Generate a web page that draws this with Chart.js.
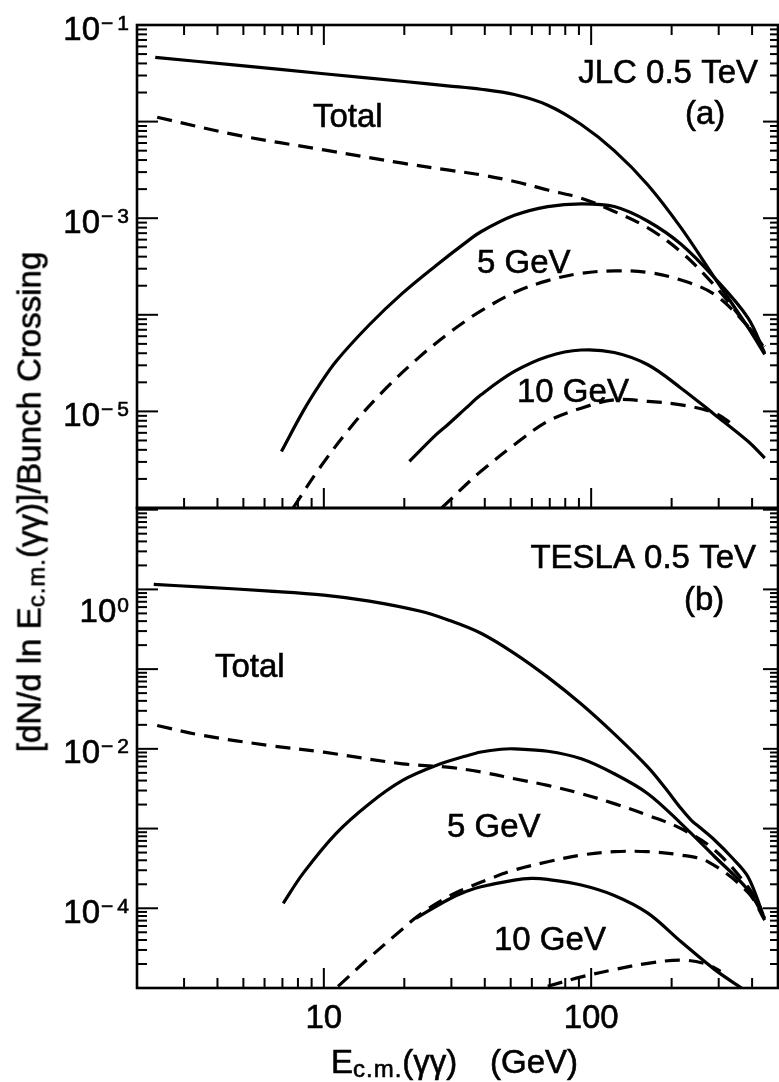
<!DOCTYPE html>
<html><head><meta charset="utf-8">
<script src="https://cdn.jsdelivr.net/npm/chart.js@4.4.1/dist/chart.umd.min.js"></script>
<style>
html,body{margin:0;padding:0;background:#fff;}
#wrap{position:relative;width:779px;height:1082px;overflow:hidden;background:#fff;font-family:'Liberation Sans',Arial,Helvetica,sans-serif;color:#000;}
canvas{position:absolute;left:0;top:0;}
.t{position:absolute;white-space:nowrap;font-size:33px;line-height:1;-webkit-text-stroke:0.6px #000;}
.sub{font-size:24px;position:relative;top:4px;letter-spacing:1px;}
#ytitle{left:29px;top:502px;transform:translate(-50%,-50%) rotate(-90deg);}
</style></head><body>
<div id="wrap">
<canvas id="c1" width="779" height="1082"></canvas>
<canvas id="c2" width="779" height="1082"></canvas>
<div class="t" id="ytitle">[dN/d ln E<span class="sub">c.m.</span>(&gamma;&gamma;)]/Bunch Crossing</div>
<div class="t" style="left:331px;top:1045px">E<span class="sub">c.m.</span>(&gamma;&gamma;)</div>
<div class="t" style="left:490px;top:1045px">(GeV)</div>
</div>
<script>
// ---------- axes ----------
const xRange = [2, 500];            // E_c.m.(gamma gamma), GeV
const jlcRange = [1e-6, 0.1];
const teslaRange = [1e-5, 10.5];
const xTickLabels = [10, 100];
const jlcTickLabels = [1e-1, 1e-3, 1e-5];
const teslaTickLabels = [1, 1e-2, 1e-4];

// ---------- (a) JLC 0.5 TeV ----------
const jlcTotalE = [2.34, 4.7, 10, 20, 29, 38.7, 51.6, 68.8, 91.8, 122, 163, 217, 290, 386, 446];
const jlcTotal  = [0.0463, 0.0384, 0.0313, 0.026, 0.02344, 0.02163, 0.01905, 0.01479, 0.00933, 0.00501, 0.00221, 0.000794, 0.00024, 7.41e-5, 3.9e-5];
const jlcTotalDashE = [2.38, 4.7, 10, 19.7, 29, 38.7, 51.6, 68.8, 91.8, 122, 163, 217, 290, 386, 446];
const jlcTotalDash  = [0.0111, 0.00728, 0.00509, 0.00371, 0.00316, 0.00281, 0.0024, 0.00196, 0.00161, 0.001175, 0.000794, 0.000447, 0.0002, 7.6e-5, 4.7e-5];
const jlc5E = [6.94, 8.36, 9.64, 11.1, 14.8, 19.7, 26.3, 34, 38.7, 51.6, 68.8, 91.8, 122, 163, 217, 290, 386, 446];
const jlc5  = [3.85e-6, 1e-5, 1.89e-5, 3.29e-5, 7.89e-5, 1.675e-4, 3.24e-4, 5.62e-4, 7.24e-4, 1.07e-3, 1.32e-3, 1.41e-3, 1.32e-3, 9.3e-4, 5.37e-4, 2.4e-4, 9.3e-5, 4.0e-5];
const jlc5DashE = [7.67, 9.64, 12.8, 17.1, 22.8, 29, 34, 38.7, 51.6, 68.8, 91.8, 122, 163, 217, 290, 386, 446];
const jlc5Dash  = [1e-6, 2.59e-6, 7.24e-6, 1.74e-5, 3.67e-5, 6.31e-5, 8.67e-5, 1.1e-4, 1.7e-4, 2.26e-4, 2.69e-4, 2.85e-4, 2.75e-4, 2.29e-4, 1.62e-4, 7.6e-5, 4.5e-5];
const jlc10E = [20.9, 26.3, 29, 34, 38.7, 51.6, 68.8, 91.8, 122, 163, 217, 290, 386, 446];
const jlc10  = [3.04e-6, 5.74e-6, 7.24e-6, 1.08e-5, 1.486e-5, 2.59e-5, 3.71e-5, 4.32e-5, 4.07e-5, 3.04e-5, 1.74e-5, 9.25e-6, 4.9e-6, 3.29e-6];
const jlc10DashE = [27.6, 34, 38.7, 51.6, 68.8, 91.8, 122, 163, 217, 290, 344];
const jlc10Dash  = [1e-6, 1.74e-6, 2.4e-6, 4.52e-6, 7.89e-6, 1.08e-5, 1.32e-5, 1.27e-5, 1.17e-5, 9.6e-6, 7.1e-6];

// ---------- (b) TESLA 0.5 TeV ----------
const teslaTotalE = [2.31, 3.54, 6.28, 10, 14.8, 22.8, 29, 38.7, 51.6, 68.8, 91.8, 122, 163, 188, 217, 237, 258, 290, 334, 386, 440];
const teslaTotal  = [1.155, 1.069, 0.953, 0.849, 0.714, 0.536, 0.417, 0.282, 0.158, 0.0794, 0.0365, 0.0154, 0.0059, 0.00332, 0.00178, 0.00127, 0.001, 0.000714, 0.000443, 0.000249, 8.26e-5];
const teslaTotalDashE = [2.38, 3.54, 6.28, 10, 19.7, 29, 38.7, 51.6, 68.8, 91.8, 122, 163, 217, 290, 386, 434];
const teslaTotalDash  = [0.0196, 0.01469, 0.0110, 0.00908, 0.00649, 0.0059, 0.00513, 0.00422, 0.00348, 0.00274, 0.002054, 0.001469, 0.001, 0.000537, 0.000186, 9.55e-5];
const tesla5E = [7.05, 8.36, 11.1, 14.8, 19.7, 26.3, 34, 38.7, 46, 51.6, 68.8, 91.8, 122, 163, 217, 290, 386, 446];
const tesla5  = [1.155e-4, 2.74e-4, 8.66e-4, 2.054e-3, 4.02e-3, 6.19e-3, 8.13e-3, 9.12e-3, 9.89e-3, 1e-2, 9.33e-3, 7.5e-3, 4.87e-3, 2.74e-3, 1.155e-3, 4.43e-4, 1.7e-4, 7.5e-5];
const tesla5DashE = [11.3, 14.8, 19.7, 22.8, 29, 34, 41, 51.6, 68.8, 91.8, 122, 163, 217, 274, 386, 446];
const tesla5Dash  = [1.05e-5, 2.4e-5, 5.5e-5, 8.3e-5, 1.38e-4, 1.78e-4, 2.29e-4, 3.02e-4, 3.83e-4, 4.65e-4, 5.13e-4, 5.13e-4, 4.65e-4, 3.83e-4, 1.585e-4, 7.1e-5];
const tesla10E = [22.1, 29, 34, 38.7, 51.6, 59.7, 68.8, 91.8, 122, 163, 217, 290, 365];
const tesla10  = [7.5e-5, 1.27e-4, 1.62e-4, 1.86e-4, 2.26e-4, 2.37e-4, 2.3e-4, 1.96e-4, 1.45e-4, 8.7e-5, 3.8e-5, 1.7e-5, 1.0e-5];
const tesla10DashE = [68.8, 92, 122, 163, 217, 270, 305];
const tesla10Dash  = [1.05e-5, 1.38e-5, 1.7e-5, 2.04e-5, 2.24e-5, 2.0e-5, 1.62e-5];

// ---------- helpers ----------
const FONT = '"Liberation Sans", Arial, Helvetica, sans-serif';
function pts(xs, ys) { return xs.map((x, i) => ({x: x, y: ys[i]})); }
function series(xs, ys, dashed) {
  return {
    data: pts(xs, ys),
    borderColor: '#000',
    borderWidth: 3.2,
    borderDash: dashed ? [15, 9] : [],
    pointRadius: 0,
    fill: false,
    tension: 0.35
  };
}
function logTicks(min, max) {
  const out = [];
  for (let d = Math.floor(Math.log10(min)) - 1; d <= Math.ceil(Math.log10(max)); d++) {
    for (let m = 1; m <= 9; m++) {
      const v = m * Math.pow(10, d);
      if (v > min * 1.0001 && v < max * 0.9999) out.push({v: v, major: m === 1});
    }
  }
  return out;
}
function boldText(ctx, s, x, y) {
  ctx.fillText(s, x, y);
  ctx.strokeText(s, x, y);
}

const framePlugin = {
  id: 'frameTicks',
  afterDraw(chart, args, o) {
    const ctx = chart.ctx, a = chart.chartArea, xs = chart.scales.x, ys = chart.scales.y;
    ctx.save();
    ctx.strokeStyle = '#000';
    ctx.lineCap = 'butt';
    ctx.lineWidth = 2;
    const seg = (x1, y1, x2, y2) => { ctx.beginPath(); ctx.moveTo(x1, y1); ctx.lineTo(x2, y2); ctx.stroke(); };
    for (const t of logTicks(xRange[0], xRange[1])) {
      const px = xs.getPixelForValue(t.v);
      const len = t.major ? 20 : 10;
      if (o.topTicks) seg(px, a.top, px, a.top + len);
      seg(px, a.bottom, px, a.bottom - len);
    }
    for (const t of logTicks(ys.min, ys.max)) {
      const py = ys.getPixelForValue(t.v);
      seg(a.left, py, a.left + (t.major ? 21 : 10), py);
      seg(a.right, py, a.right - (t.major ? 15 : 8), py);
    }
    ctx.lineWidth = 2.6;
    ctx.strokeRect(a.left, a.top, a.right - a.left, a.bottom - a.top);

    ctx.fillStyle = '#000';
    ctx.lineWidth = 0.6;
    ctx.textBaseline = 'alphabetic';
    ctx.textAlign = 'left';
    // y tick labels: 10 with superscript exponent (minus sign and digit set apart)
    for (const lab of o.yLabels) {
      const py = ys.getPixelForValue(lab.v);
      const base = py + 14.5 + (lab.dy || 0);
      const e = Math.round(Math.log10(lab.v));
      const parts = e < 0 ? ['\u2212', String(-e)] : [String(e)];
      ctx.font = '21px ' + FONT;
      const widths = parts.map(p => ctx.measureText(p).width);
      const gap = parts.length > 1 ? 4 : 0;
      const ew = widths.reduce((s, w) => s + w, 0) + gap;
      let ex = 129 - ew;
      parts.forEach((p, i) => { boldText(ctx, p, ex, base - 10); ex += widths[i] + gap; });
      ctx.font = '33px ' + FONT;
      const bw = ctx.measureText('10').width;
      boldText(ctx, '10', 128 - ew - bw, base);
    }
    // x tick labels
    if (o.xLabels) {
      ctx.font = '33px ' + FONT;
      ctx.textAlign = 'center';
      for (const v of o.xLabels) {
        boldText(ctx, String(v), xs.getPixelForValue(v), 1028);
      }
    }
    // in-plot annotations
    ctx.font = '33px ' + FONT;
    for (const n of o.notes) {
      ctx.textAlign = n.align || 'left';
      boldText(ctx, n.text, n.x, n.y);
    }
    ctx.restore();
  }
};

function makeChart(id, datasets, yRange, padTop, padBottom, pluginOpts) {
  return new Chart(document.getElementById(id), {
    type: 'line',
    data: {datasets: datasets},
    options: {
      responsive: false,
      maintainAspectRatio: false,
      animation: false,
      devicePixelRatio: 1,
      layout: {padding: {left: 137, right: 1, top: padTop, bottom: padBottom}},
      scales: {
        x: {type: 'logarithmic', min: xRange[0], max: xRange[1], bounds: 'data', display: false},
        y: {type: 'logarithmic', min: yRange[0], max: yRange[1], bounds: 'data', display: false}
      },
      plugins: {legend: {display: false}, tooltip: {enabled: false}, frameTicks: pluginOpts}
    },
    plugins: [framePlugin]
  });
}

makeChart('c1', [
  series(jlcTotalE, jlcTotal, false),
  series(jlcTotalDashE, jlcTotalDash, true),
  series(jlc5E, jlc5, false),
  series(jlc5DashE, jlc5Dash, true),
  series(jlc10E, jlc10, false),
  series(jlc10DashE, jlc10Dash, true)
], jlcRange, 25, 1082 - 508, {
  topTicks: true,
  yLabels: jlcTickLabels.map(v => ({v: v})),
  xLabels: null,
  notes: [
    {text: 'JLC 0.5 TeV', x: 758, y: 83, align: 'right'},
    {text: '(a)', x: 685, y: 124},
    {text: 'Total', x: 313, y: 127},
    {text: '5 GeV', x: 477, y: 273},
    {text: '10 GeV', x: 517, y: 402}
  ]
});

makeChart('c2', [
  series(teslaTotalE, teslaTotal, false),
  series(teslaTotalDashE, teslaTotalDash, true),
  series(tesla5E, tesla5, false),
  series(tesla5DashE, tesla5Dash, true),
  series(tesla10E, tesla10, false),
  series(tesla10DashE, tesla10Dash, true)
], teslaRange, 508, 1082 - 988, {
  topTicks: false,
  yLabels: teslaTickLabels.map(v => ({v: v, dy: v === 1 ? 18 : 0})),
  xLabels: xTickLabels,
  notes: [
    {text: 'TESLA 0.5 TeV', x: 756, y: 568, align: 'right'},
    {text: '(b)', x: 684, y: 610},
    {text: 'Total', x: 215, y: 677},
    {text: '5 GeV', x: 447, y: 837},
    {text: '10 GeV', x: 494, y: 950}
  ]
});
</script>
</body></html>
